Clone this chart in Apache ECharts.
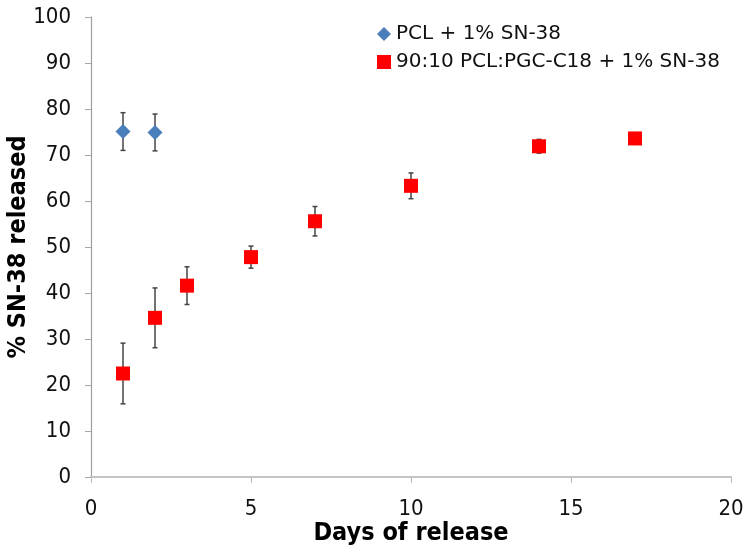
<!DOCTYPE html>
<html>
<head>
<meta charset="utf-8">
<script src="https://cdn.jsdelivr.net/npm/echarts@6/dist/echarts.min.js"></script>
<style>html,body{margin:0;padding:0;background:#fff}#c{width:750px;height:553px}</style>
</head>
<body>
<div id="c"></div>
<script>
const pclName = 'PCL + 1% SN-38';
const blendName = '90:10 PCL:PGC-C18 + 1% SN-38';
const pclDays = [1, 2];
const pclValues = [75.1, 74.9];
const pclErrors = [4.1, 4.0];
const blendDays = [1, 2, 3, 5, 7, 10, 14, 17];
const blendValues = [22.5, 34.6, 41.6, 47.8, 55.6, 63.3, 71.9, 73.6];
const blendErrors = [6.6, 6.5, 4.1, 2.4, 3.2, 2.8, 1.5, 0.8];
const xTicks = [0, 5, 10, 15, 20];
const yTicks = [0, 10, 20, 30, 40, 50, 60, 70, 80, 90, 100];

const FONT = "'DejaVu Sans Condensed', 'DejaVu Sans', sans-serif";
const LFONT = "'DejaVu Sans', sans-serif";

function zip3(a, b, c) { return a.map((v, i) => [v, b[i], c[i]]); }

function errRender(params, api) {
  const x = api.value(0), y = api.value(1), e = api.value(2);
  const top = api.coord([x, y + e]);
  const bot = api.coord([x, y - e]);
  const cap = 2.5;
  const style = { stroke: '#444', lineWidth: 1.5 };
  return {
    type: 'group',
    children: [
      { type: 'line', shape: { x1: top[0], y1: top[1], x2: bot[0], y2: bot[1] }, style },
      { type: 'line', shape: { x1: top[0] - cap, y1: top[1], x2: top[0] + cap, y2: top[1] }, style },
      { type: 'line', shape: { x1: bot[0] - cap, y1: bot[1], x2: bot[0] + cap, y2: bot[1] }, style }
    ]
  };
}

const chart = echarts.init(document.getElementById('c'), null, { renderer: 'canvas' });
chart.setOption({
  animation: false,
  backgroundColor: '#fff',
  grid: { left: 91, right: 19, top: 17, bottom: 76, containLabel: false, outerBoundsMode: 'none' },
  legend: {
    data: [pclName, blendName],
    orient: 'vertical',
    left: 372,
    top: 19,
    itemWidth: 14,
    itemHeight: 14,
    itemGap: 8,
    textStyle: { fontFamily: LFONT, fontSize: 20, color: '#111' }
  },
  xAxis: {
    type: 'value',
    min: 0, max: 20, interval: 5,
    name: 'Days of release',
    nameLocation: 'middle',
    nameGap: 44,
    nameMoveOverlap: false,
    nameTextStyle: { fontFamily: FONT, fontSize: 25, fontWeight: 'bold', color: '#000' },
    axisLine: { show: true, lineStyle: { color: '#c4c4c4', width: 2 } },
    axisTick: { show: true, length: 6, lineStyle: { color: '#b8b8b8' } },
    axisLabel: { fontFamily: FONT, fontSize: 22, color: '#111', margin: 21,
      formatter: v => xTicks.includes(v) ? String(v) : '' },
    splitLine: { show: false }
  },
  yAxis: {
    type: 'value',
    min: 0, max: 100, interval: 10,
    name: '% SN-38 released',
    nameLocation: 'middle',
    nameGap: 60,
    nameMoveOverlap: false,
    nameTextStyle: { fontFamily: FONT, fontSize: 25, fontWeight: 'bold', color: '#000' },
    axisLine: { show: true, lineStyle: { color: '#a0a0a0', width: 1.2 } },
    axisTick: { show: true, length: 6, lineStyle: { color: '#a8a8a8' } },
    axisLabel: { fontFamily: FONT, fontSize: 22, color: '#111', margin: 20,
      formatter: v => yTicks.includes(v) ? String(v) : '' },
    splitLine: { show: false }
  },
  series: [
    { type: 'custom', name: 'pclErr', renderItem: errRender, data: zip3(pclDays, pclValues, pclErrors), z: 1, silent: true },
    { type: 'custom', name: 'blendErr', renderItem: errRender, data: zip3(blendDays, blendValues, blendErrors), z: 1, silent: true },
    { type: 'scatter', name: pclName, symbol: 'diamond', symbolSize: 15,
      itemStyle: { color: '#4a7ebb', opacity: 1 }, data: pclDays.map((d, i) => [d, pclValues[i]]), z: 3 },
    { type: 'scatter', name: blendName, symbol: 'rect', symbolSize: 14,
      itemStyle: { color: '#ff0000', opacity: 1 }, data: blendDays.map((d, i) => [d, blendValues[i]]), z: 3 }
  ]
});
</script>
</body>
</html>
